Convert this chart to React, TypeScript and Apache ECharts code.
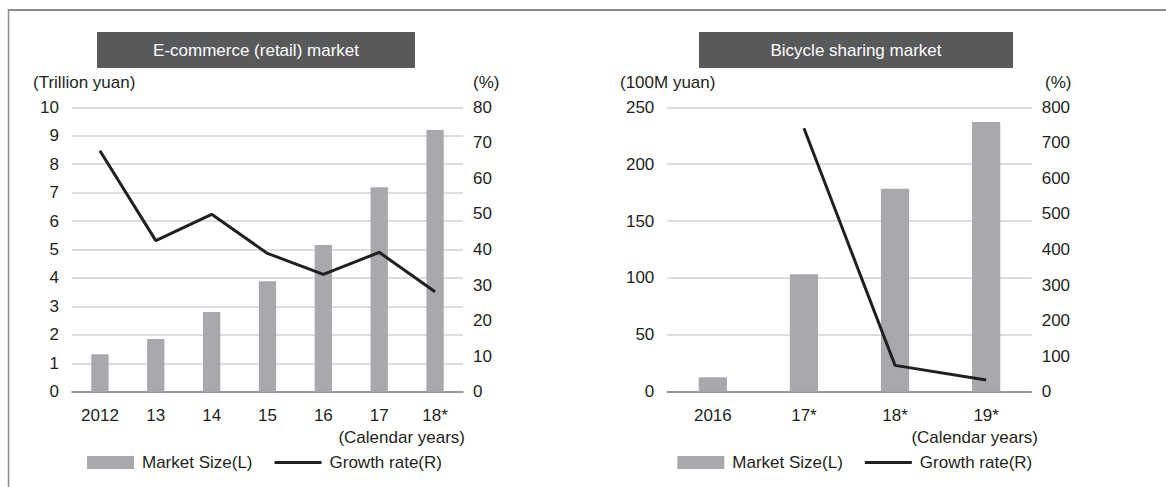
import React, { useEffect, useRef } from "react";
import * as echarts from "echarts";

const ecYears = ["2012", "13", "14", "15", "16", "17", "18*"];
const ecMarketSize = [1.32, 1.85, 2.8, 3.88, 5.16, 7.19, 9.2];
const ecGrowth = [67.8, 42.5, 49.9, 38.9, 33.0, 39.2, 28.1];

const bsYears = ["2016", "17*", "18*", "19*"];
const bsMarketSize = [12.7, 103.2, 178.5, 237.1];
const bsGrowth: (number | null)[] = [null, 741, 74, 33];

const FONT = "'Liberation Sans', Arial, Helvetica, sans-serif";
const TEXT = "#231f20";
const BAR = "#a7a9ac";
const GRID = "#d1d2d4";
const AXIS = "#808285";
const TITLE_BG = "#58595b";

export default function App() {
  const ref = useRef<HTMLDivElement>(null);
  useEffect(() => {
    if (!ref.current) return;
    const chart = echarts.init(ref.current, undefined, { renderer: "svg" });
    const gridTop = 107.3;
    const gridH = 284.4;
    const xAxisBase = (gridIndex: number, data: string[]) => ({
      type: "category" as const,
      gridIndex,
      data,
      axisLine: { show: true, lineStyle: { color: AXIS, width: 1.5 } },
      axisTick: { show: false },
      axisLabel: { color: TEXT, fontSize: 17, fontFamily: FONT, margin: 15 },
    });
    const leftY = (gridIndex: number, max: number, interval: number) => ({
      type: "value" as const,
      gridIndex,
      min: 0,
      max,
      interval,
      position: "left" as const,
      axisLine: { show: false },
      axisTick: { show: false },
      splitLine: { show: true, lineStyle: { color: GRID, width: 1.5 } },
      axisLabel: { color: TEXT, fontSize: 17, fontFamily: FONT, margin: 13 },
    });
    const rightY = (gridIndex: number, max: number, interval: number) => ({
      type: "value" as const,
      gridIndex,
      min: 0,
      max,
      interval,
      position: "right" as const,
      axisLine: { show: false },
      axisTick: { show: false },
      splitLine: { show: false },
      axisLabel: { color: TEXT, fontSize: 17, fontFamily: FONT, margin: 10 },
    });
    const legendBase = (left: number) => ({
      left,
      top: 454,
      itemWidth: 47,
      itemHeight: 13,
      itemGap: 22,
      padding: 0,
      textStyle: { color: TEXT, fontSize: 17, fontFamily: FONT, padding: [0, 0, 0, 3] },
      data: [
        { name: "Market Size(L)", icon: "rect" },
        { name: "Growth rate(R)", icon: "path://M0,0 L46,0 L46,3 L0,3 Z" },
      ],
      selectedMode: false,
    });
    const txt = (x: number, y: number, text: string, align: string = "left") => ({
      type: "text",
      x,
      y,
      style: {
        text,
        fill: TEXT,
        font: `17px ${FONT}`,
        textAlign: align,
        textVerticalAlign: "middle",
      },
    });
    const titleBox = (x: number, w: number, text: string) => ({
      type: "group",
      children: [
        { type: "rect", shape: { x, y: 32, width: w, height: 36 }, style: { fill: TITLE_BG } },
        {
          type: "text",
          x: x + w / 2,
          y: 50,
          style: {
            text,
            fill: "#ffffff",
            font: `17px ${FONT}`,
            textAlign: "center",
            textVerticalAlign: "middle",
          },
        },
      ],
    });
    chart.setOption({
      animation: false,
      backgroundColor: "#ffffff",
      grid: [
        { left: 72, top: gridTop, width: 391, height: gridH },
        { left: 667.3, top: gridTop, width: 364.4, height: gridH },
      ],
      xAxis: [xAxisBase(0, ecYears), xAxisBase(1, bsYears)],
      yAxis: [leftY(0, 10, 1), rightY(0, 80, 10), leftY(1, 250, 50), rightY(1, 800, 100)],
      legend: [legendBase(87), legendBase(677.3)],
      series: [
        {
          name: "Market Size(L)",
          type: "bar",
          xAxisIndex: 0,
          yAxisIndex: 0,
          data: ecMarketSize,
          barWidth: "31%",
          itemStyle: { color: BAR },
        },
        {
          name: "Growth rate(R)",
          type: "line",
          xAxisIndex: 0,
          yAxisIndex: 1,
          data: ecGrowth,
          symbol: "none",
          lineStyle: { color: TEXT, width: 3 },
          itemStyle: { color: TEXT },
        },
        {
          name: "Market Size(L)",
          type: "bar",
          xAxisIndex: 1,
          yAxisIndex: 2,
          data: bsMarketSize,
          barWidth: "31%",
          itemStyle: { color: BAR },
        },
        {
          name: "Growth rate(R)",
          type: "line",
          xAxisIndex: 1,
          yAxisIndex: 3,
          data: bsGrowth,
          symbol: "none",
          connectNulls: false,
          lineStyle: { color: TEXT, width: 3 },
          itemStyle: { color: TEXT },
        },
      ],
      graphic: [
        { type: "line", shape: { x1: 8, y1: 10, x2: 1166, y2: 10 }, style: { stroke: "#8c8c8c", lineWidth: 2 } },
        { type: "line", shape: { x1: 8.5, y1: 9, x2: 8.5, y2: 487 }, style: { stroke: "#8c8c8c", lineWidth: 1.5 } },
        titleBox(97, 318, "E-commerce (retail) market"),
        titleBox(699, 314, "Bicycle sharing market"),
        txt(33, 82, "(Trillion yuan)"),
        txt(473, 82, "(%)"),
        txt(620, 82, "(100M yuan)"),
        txt(1045, 82, "(%)"),
        txt(465, 437, "(Calendar years)", "right"),
        txt(1038, 437, "(Calendar years)", "right"),
      ],
    });
    return () => chart.dispose();
  }, []);
  return (
    <div
      ref={ref}
      style={{ position: "fixed", left: 0, top: 0, width: 1166, height: 487, background: "#fff" }}
    />
  );
}
